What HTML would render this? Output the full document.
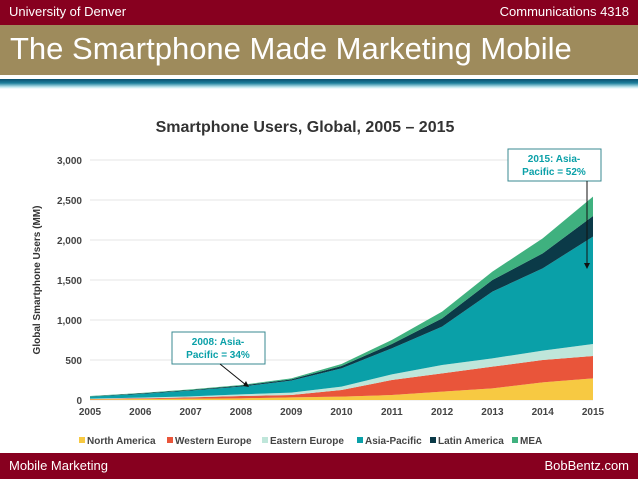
<!DOCTYPE html>
<html><head><meta charset="utf-8"><style>
body{margin:0;width:638px;height:479px;overflow:hidden;background:#fff;font-family:"Liberation Sans",sans-serif;position:relative}
.abs{position:absolute}
</style></head><body>
<div class="abs" style="left:0;top:0;width:638px;height:25px;background:#87001f"></div>
<div class="abs" style="left:9px;top:4px;color:#fff;font-size:13px">University of Denver</div>
<div class="abs" style="right:9px;top:4px;color:#fff;font-size:13px">Communications 4318</div>
<div class="abs" style="left:0;top:25px;width:638px;height:50px;background:#9e8b5c"></div>
<div class="abs" style="left:10px;top:31px;color:#fff;font-size:31px">The Smartphone Made Marketing Mobile</div>
<div class="abs" style="left:0;top:79px;width:638px;height:10px;background:linear-gradient(#0a4f6e,#1d7f9c 40%,#bfe6ee 80%,#fff)"></div>
<div class="abs" style="left:0;top:453px;width:638px;height:26px;background:#87001f"></div>
<div class="abs" style="left:9px;top:458px;color:#fff;font-size:13px">Mobile Marketing</div>
<div class="abs" style="right:9px;top:458px;color:#fff;font-size:13px">BobBentz.com</div>
<svg class="abs" style="left:0;top:0" width="638" height="479" id="chart"></svg>
<script>
const years=[2005,2006,2007,2008,2009,2010,2011,2012,2013,2014,2015];
const northAmerica=[8,12,17,21,33,42,62,104,146,221,271];
const westernEurope=[4,9,16,29,29,83,188,229,271,279,279];
const easternEurope=[5,8,13,21,30,42,71,104,104,117,150];
const asiaPacific=[25,46,71,96,150,229,325,480,833,1029,1342];
const latinAmerica=[4,8,8,12,16,29,54,104,146,187,258];
const mea=[4,5,8,9,13,25,50,83,104,188,242];
const yTicks=[0,500,1000,1500,2000,2500,3000];
const yTickLabels=["0","500","1,000","1,500","2,000","2,500","3,000"];
const seriesNames=["North America","Western Europe","Eastern Europe","Asia-Pacific","Latin America","MEA"];
const colors=["#f7c942","#e9553a","#bfe6da","#0aa0a8","#0b3a48","#3fb17f"];
const NS="http://www.w3.org/2000/svg";
const svg=document.getElementById('chart');
const X=y=>90+(y-2005)*(593-90)/10;
const Y=v=>400-v*240/3000;
function mk(t,a,txt){const e=document.createElementNS(NS,t);for(const k in a)e.setAttribute(k,a[k]);if(txt!==undefined)e.textContent=txt;svg.appendChild(e);return e;}
const t=mk('text',{x:305,y:132,'text-anchor':'middle','font-size':'16','font-weight':'bold',fill:'#333'},'Smartphone Users, Global, 2005 – 2015');

yTicks.forEach((v,i)=>{
 const l=mk('line',{x1:90,x2:593,y1:Y(v),y2:Y(v),stroke:'#e6e6e6','stroke-width':1});
 
 const tx=mk('text',{x:82,y:Y(v)+4,'text-anchor':'end','font-size':'10','font-weight':'bold',fill:'#444'},yTickLabels[i]);
 
});
years.forEach(yr=>{
 const tx=mk('text',{x:X(yr),y:415,'text-anchor':'middle','font-size':'10','font-weight':'bold',fill:'#444'},String(yr));
 
});
const yt=mk('text',{x:40,y:280,'text-anchor':'middle','font-size':'10','font-weight':'bold',fill:'#333',transform:'rotate(-90 40 280)'},'Global Smartphone Users (MM)');

const series=[northAmerica,westernEurope,easternEurope,asiaPacific,latinAmerica,mea];
let base=years.map(()=>0);
series.forEach((s,si)=>{
 const top=base.map((b,i)=>b+s[i]);
 let d='M'+years.map((yr,i)=>X(yr)+','+Y(top[i])).join('L');
 for(let i=years.length-1;i>=0;i--)d+='L'+X(years[i])+','+Y(base[i]);
 const p=mk('path',{d:d+'Z',fill:colors[si]});
 
 
 base=top;
});
function box(x,y,l1,l2,name){
 const r=mk('rect',{x:x,y:y,width:93,height:32,fill:'#fff',stroke:'#3a8a90','stroke-width':1});
 
 mk('text',{x:x+46,y:y+13,'text-anchor':'middle','font-size':'10','font-weight':'bold',fill:'#0aa0a8'},l1);
 mk('text',{x:x+46,y:y+26,'text-anchor':'middle','font-size':'10','font-weight':'bold',fill:'#0aa0a8'},l2);
}
box(508,149,'2015: Asia-','Pacific = 52%','annotation-2015');
box(172,332,'2008: Asia-','Pacific = 34%','annotation-2008');
const a1=mk('line',{x1:587,y1:181,x2:587,y2:266,stroke:'#111','stroke-width':1});

mk('path',{d:'M584,263L590,263L587,269Z',fill:'#111'});
const a2=mk('line',{x1:220,y1:364,x2:246,y2:385,stroke:'#111','stroke-width':1});

mk('path',{d:'M243,386L249,387L246,381Z',fill:'#111'});
const lx=[79,167,262,357,430,512];
seriesNames.forEach((n,i)=>{
 const r=mk('rect',{x:lx[i],y:437,width:6,height:6,fill:colors[i]});
 
 const tx=mk('text',{x:lx[i]+8,y:444,'font-size':'10','font-weight':'bold',fill:'#444'},n);
 
});
</script>
</body></html>
